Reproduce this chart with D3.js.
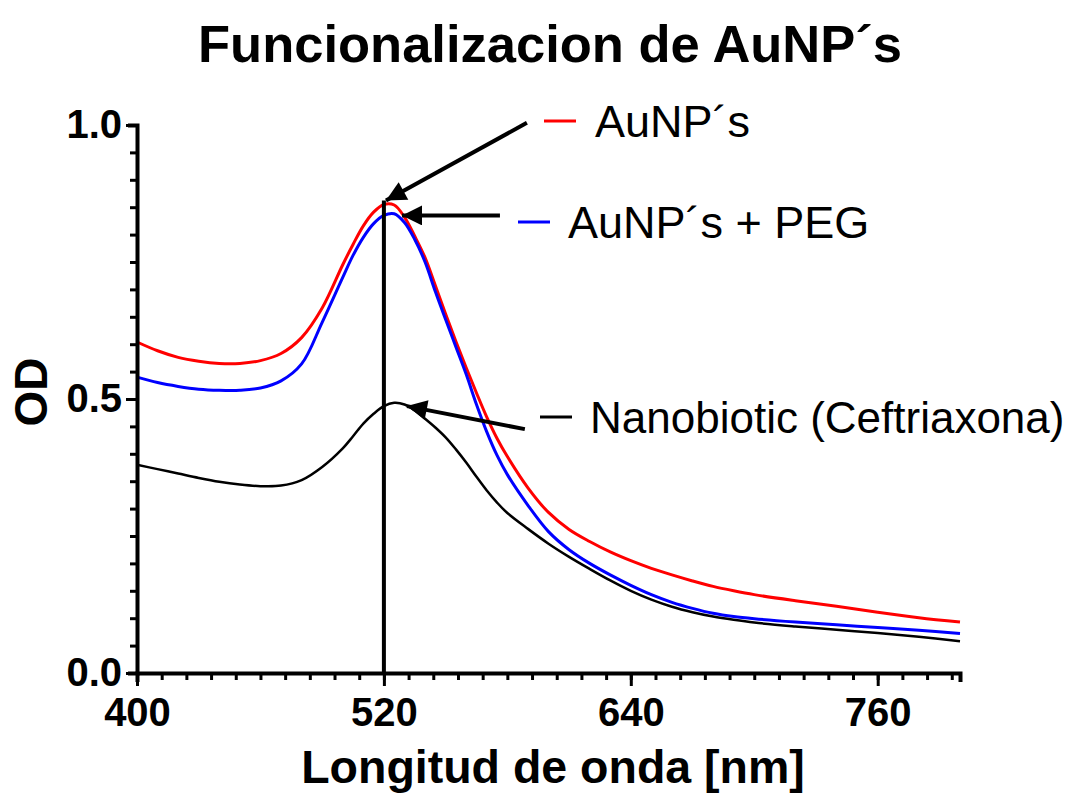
<!DOCTYPE html>
<html>
<head>
<meta charset="utf-8">
<script src="https://cdn.jsdelivr.net/npm/d3@7"></script>
<style>
body { margin: 0; background: #fff; }
text { font-family: "Liberation Sans", Arial, sans-serif; fill: #000; }
</style>
</head>
<body>
<div id="chart"></div>
<script>
// wavelength grid (nm) shared by all three spectra
var wavelengths = [400, 410, 420, 430, 440, 450, 460, 470, 480, 490, 500, 505, 510, 515, 520, 525,
    530, 535, 540, 545, 550, 555, 560, 565, 570, 575, 580, 590, 600, 610, 620, 630, 640, 650,
    660, 670, 680, 690, 700, 720, 740, 760, 780, 800];

var aunp = [0.604, 0.588, 0.576, 0.569, 0.565, 0.565, 0.570, 0.583, 0.612, 0.666, 0.745, 0.782,
    0.816, 0.841, 0.855, 0.854, 0.832, 0.797, 0.758, 0.707, 0.655, 0.605, 0.557, 0.511, 0.467,
    0.428, 0.395, 0.338, 0.293, 0.262, 0.240, 0.221, 0.205, 0.191, 0.179, 0.168, 0.158, 0.150,
    0.143, 0.132, 0.122, 0.111, 0.101, 0.093];

var aunpPeg = [0.540, 0.530, 0.523, 0.518, 0.516, 0.516, 0.520, 0.533, 0.564, 0.640, 0.722, 0.762,
    0.795, 0.820, 0.835, 0.838, 0.822, 0.791, 0.750, 0.696, 0.645, 0.595, 0.545, 0.490, 0.440,
    0.397, 0.362, 0.306, 0.258, 0.225, 0.200, 0.179, 0.160, 0.143, 0.129, 0.118, 0.109, 0.103,
    0.099, 0.093, 0.088, 0.083, 0.078, 0.072];

var nanobiotic = [0.380, 0.372, 0.364, 0.356, 0.349, 0.344, 0.341, 0.342, 0.352, 0.376, 0.410, 0.432,
    0.455, 0.473, 0.487, 0.493, 0.490, 0.479, 0.464, 0.448, 0.430, 0.408, 0.384, 0.358, 0.333,
    0.311, 0.292, 0.263, 0.236, 0.212, 0.190, 0.169, 0.150, 0.134, 0.121, 0.111, 0.103, 0.097,
    0.092, 0.085, 0.079, 0.073, 0.066, 0.058];

var seriesNames = ["AuNP´s", "AuNP´s + PEG", "Nanobiotic (Ceftriaxona)"];
var seriesColors = ["#ff0000", "#0000ff", "#000000"];

var xMajorTicks = [400, 520, 640, 760];
var xMinorTicks = d3.range(400, 801, 12);
var yMajorTicks = [0, 0.5, 1.0];
var yMinorTicks = d3.range(0, 1.001, 0.05);

// vertical marker at the plasmon peak
var peakWavelength = 520;
var peakTop = 0.862;

// annotation arrows, tail -> tip, in data units
var arrowTails = [[589.5, 1.004], [576.4, 0.835], [588.5, 0.445]];
var arrowTips = [[521, 0.862], [528.8, 0.835], [531.2, 0.487]];

var width = 1073, height = 798;
var margin = {top: 125, right: 113, bottom: 125, left: 137};

var svg = d3.select("#chart")
    .append("svg")
    .attr("width", width)
    .attr("height", height);

var xScale = d3.scaleLinear()
    .domain([400, 800])
    .range([margin.left, width - margin.right]);

var yScale = d3.scaleLinear()
    .domain([0, 1])
    .range([height - margin.bottom, margin.top]);

// title
svg.append("text")
    .attr("x", 550)
    .attr("y", 62)
    .attr("text-anchor", "middle")
    .style("font-size", "52.5px")
    .style("font-weight", "bold")
    .text("Funcionalizacion de AuNP´s");

// curves
var line = d3.line()
    .x(function(d) { return xScale(d[0]); })
    .y(function(d) { return yScale(d[1]); })
    .curve(d3.curveCatmullRom.alpha(0.5));

[aunp, aunpPeg, nanobiotic].forEach(function(values, i) {
    svg.append("path")
        .datum(wavelengths.map(function(w, j) { return [w, values[j]]; }))
        .attr("d", line)
        .attr("fill", "none")
        .attr("stroke", seriesColors[i])
        .attr("stroke-width", i == 2 ? 2.5 : 3);
});

// peak marker line
svg.append("line")
    .attr("x1", xScale(peakWavelength))
    .attr("x2", xScale(peakWavelength))
    .attr("y1", yScale(0))
    .attr("y2", yScale(peakTop))
    .attr("stroke", "black")
    .attr("stroke-width", 4);

// axes
function styleAxis(g) {
    g.select(".domain").attr("stroke-width", 4).attr("stroke-linecap", "square");
    g.selectAll(".tick line").attr("stroke-width", 3);
    g.selectAll(".tick text")
        .style("font-size", "40px")
        .style("font-weight", "bold")
        .attr("font-family", null);
}

svg.append("g")
    .attr("transform", "translate(0," + yScale(0) + ")")
    .call(d3.axisBottom(xScale).tickValues(xMinorTicks).tickSize(7).tickFormat(""))
    .call(styleAxis);

svg.append("g")
    .attr("transform", "translate(0," + yScale(0) + ")")
    .call(d3.axisBottom(xScale).tickValues(xMajorTicks).tickSize(13).tickPadding(12).tickFormat(d3.format("d")))
    .call(styleAxis)
    .call(function(g) { g.select(".domain").remove(); });

svg.append("g")
    .attr("transform", "translate(" + xScale(400) + ",0)")
    .call(d3.axisLeft(yScale).tickValues(yMinorTicks).tickSize(7).tickFormat(""))
    .call(styleAxis);

svg.append("g")
    .attr("transform", "translate(" + xScale(400) + ",0)")
    .call(d3.axisLeft(yScale).tickValues(yMajorTicks).tickSize(11).tickPadding(4).tickFormat(d3.format(".1f")))
    .call(styleAxis)
    .call(function(g) { g.select(".domain").remove(); });

// axis titles
svg.append("text")
    .attr("x", 553)
    .attr("y", 783)
    .attr("text-anchor", "middle")
    .style("font-size", "46.5px")
    .style("font-weight", "bold")
    .text("Longitud de onda [nm]");

svg.append("text")
    .attr("transform", "translate(47,392) rotate(-90)")
    .attr("text-anchor", "middle")
    .style("font-size", "46px")
    .style("font-weight", "bold")
    .text("OD");

// arrows
svg.append("defs").append("marker")
    .attr("id", "arrowhead")
    .attr("viewBox", "0 0 10 10")
    .attr("refX", 10)
    .attr("refY", 5)
    .attr("markerWidth", 6)
    .attr("markerHeight", 5)
    .attr("markerUnits", "strokeWidth")
    .attr("orient", "auto")
    .append("path")
    .attr("d", "M0,0 L10,5 L0,10 Z")
    .attr("fill", "black");

arrowTails.forEach(function(tail, i) {
    svg.append("line")
        .attr("x1", xScale(tail[0]))
        .attr("y1", yScale(tail[1]))
        .attr("x2", xScale(arrowTips[i][0]))
        .attr("y2", yScale(arrowTips[i][1]))
        .attr("stroke", "black")
        .attr("stroke-width", 4)
        .attr("marker-end", "url(#arrowhead)");
});

// legend, placed next to each arrow
var legendPos = [[544, 121, 595, 137], [518, 222, 568, 238], [540, 417, 590, 433]];
var legendFont = [45, 45, 44];

legendPos.forEach(function(p, i) {
    svg.append("line")
        .attr("x1", p[0])
        .attr("x2", p[0] + 32)
        .attr("y1", p[1])
        .attr("y2", p[1])
        .attr("stroke", seriesColors[i])
        .attr("stroke-width", 3);
    svg.append("text")
        .attr("x", p[2])
        .attr("y", p[3])
        .style("font-size", legendFont[i] + "px")
        .text(seriesNames[i]);
});
</script>
</body>
</html>
